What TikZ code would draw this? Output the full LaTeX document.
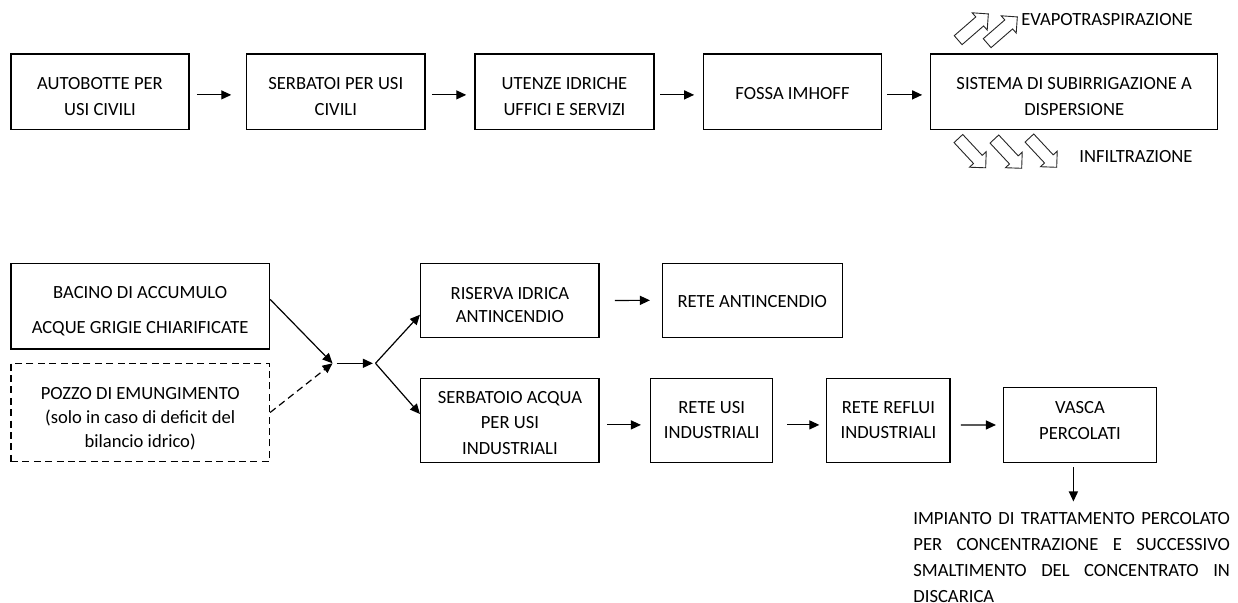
\documentclass[tikz,border=0pt]{standalone}
\usepackage{fontspec}
\setmainfont{Carlito}
\usetikzlibrary{shapes.arrows, arrows.meta}

\newcommand{\dn}[1]{\rule{0pt}{#1}}
\newcommand{\upw}[1]{\rule[-#1]{0pt}{0pt}}

\begin{document}
\begin{tikzpicture}[
    x=0.5pt, y=-0.5pt,
    font=\fontsize{9.3}{12.6}\selectfont,
    box/.style={rectangle, draw=black, line width=0.75pt, inner sep=0pt,
                align=center},
    topbox/.style={box, minimum height=37.7pt, font=\fontsize{9.3}{13.3}\selectfont},
    dbox/.style={box, dash pattern=on 3.5pt off 2.2pt},
    arr/.style={-{Triangle[length=5pt, width=4.5pt]}, line width=0.6pt, color=black},
    fat/.style={single arrow, draw=black!85, line width=0.45pt, inner xsep=0pt,
                inner ysep=2.75pt, minimum height=20pt, minimum width=11pt,
                single arrow head extend=2.75pt}
]
\useasboundingbox (0,0) rectangle (1238,603);

% top row
\node[topbox, minimum width=89pt] (autobotte) at (100,91.7) {\dn{11pt}AUTOBOTTE PER\\USI CIVILI};
\node[topbox, minimum width=89.2pt] (serbatoi) at (335.8,91.7) {\dn{11pt}SERBATOI PER USI\\CIVILI};
\node[topbox, minimum width=89.5pt] (utenze) at (564.5,91.7) {\dn{11pt}UTENZE IDRICHE\\UFFICI E SERVIZI};
\node[topbox, minimum width=89.2pt] (imhoff) at (792.5,91.7) {\dn{8pt}FOSSA IMHOFF};
\node[topbox, minimum width=143.5pt] (subirr) at (1074.2,91.7) {\dn{11pt}SISTEMA DI SUBIRRIGAZIONE A\\DISPERSIONE};

\draw[arr, shorten <=3.5pt, shorten >=7.3pt] ([yshift=-1.6pt]autobotte.east) -- ([yshift=-1.6pt]serbatoi.west);
\draw[arr, shorten <=3pt, shorten >=4pt] ([yshift=-1.6pt]serbatoi.east) -- ([yshift=-1.6pt]utenze.west);
\draw[arr, shorten <=2.7pt, shorten >=4.2pt] ([yshift=-1.6pt]utenze.east) -- ([yshift=-1.6pt]imhoff.west);
\draw[arr, shorten <=2.5pt, shorten >=3.9pt] ([yshift=-1.6pt]imhoff.east) -- ([yshift=-1.6pt]subirr.west);

% evapotraspirazione / infiltrazione
\node[fat, rotate=41] (ev1) at (971,29) {};
\node[fat, rotate=41] (ev2) at (1000,32) {};
\node (evapo) at (1107,20) {EVAPOTRASPIRAZIONE};
\node[fat, rotate=-47] (in1) at (970,151) {};
\node[fat, rotate=-47] (in2) at (1006,151.5) {};
\node[fat, rotate=-47] (in3) at (1041,150.5) {};
\node (infiltr) at (1136,157) {INFILTRAZIONE};

% bottom part
\node[box, minimum width=129.2pt, minimum height=42.8pt] (bacino) at (140.2,306.2) {\dn{11pt}BACINO DI ACCUMULO\\[4.5pt]ACQUE GRIGIE CHIARIFICATE};
\node[dbox, minimum width=129.2pt, minimum height=49.2pt, font=\fontsize{9.3}{12}\selectfont] (pozzo) at (140.2,412.5) {\dn{12pt}POZZO DI EMUNGIMENTO\\(solo in caso di deficit del\\bilancio idrico)};

\coordinate (j1) at (332.5,363.3);
\coordinate (j2) at (375.5,363.3);
\draw[arr] (bacino.3) -- (j1);
\draw[arr, dash pattern=on 3.5pt off 2.2pt] (pozzo.east) -- (j1);
\draw[arr, shorten <=2pt, shorten >=1.3pt] (j1) -- (j2);

\node[box, minimum width=89.2pt, minimum height=37.2pt, font=\fontsize{9.3}{11.8}\selectfont] (riserva) at (509.9,300.5) {\dn{10.5pt}RISERVA IDRICA\\ANTINCENDIO};
\node[box, minimum width=90pt, minimum height=37pt] (antincendio) at (752.3,300.3) {\dn{7.5pt}RETE ANTINCENDIO};
\node[box, minimum width=89.2pt, minimum height=42pt] (serbind) at (509.9,420.3) {\dn{8.7pt}SERBATOIO ACQUA\\PER USI\\INDUSTRIALI};
\node[box, minimum width=61pt, minimum height=42pt] (reteusi) at (711.7,420.3) {RETE USI\\INDUSTRIALI};
\node[box, minimum width=61.7pt, minimum height=42pt] (reflui) at (888.4,420.3) {RETE REFLUI\\INDUSTRIALI};
\node[box, minimum width=76.7pt, minimum height=37.3pt] (vasca) at (1080,425) {VASCA\\PERCOLATI\upw{4.5pt}};

\draw[arr] (j2) -- (riserva.189);
\draw[arr] (j2) -- (serbind.176);
\draw[arr, shorten <=7.5pt, shorten >=5.8pt] (riserva.east) -- (antincendio.west);
\draw[arr, shorten <=3.8pt, shorten >=4.5pt] ([yshift=-2.3pt]serbind.east) -- ([yshift=-2.3pt]reteusi.west);
\draw[arr, shorten <=7pt, shorten >=3.3pt] ([yshift=-2.3pt]reteusi.east) -- ([yshift=-2.3pt]reflui.west);
\draw[arr, shorten <=5pt, shorten >=3.3pt] ([yshift=-2.3pt]reflui.east) -- (vasca.west);

\node[anchor=north west, inner sep=0pt, text width=158.3pt, align=justify,
      font=\fontsize{9.3}{12.85}\selectfont] (impianto) at (913,512.5)
  {IMPIANTO DI TRATTAMENTO PERCOLATO\linebreak PER CONCENTRAZIONE E SUCCESSIVO\linebreak SMALTIMENTO DEL CONCENTRATO IN\linebreak DISCARICA};
\draw[arr, shorten <=2.2pt, shorten >=5.5pt] ([xshift=-3.3pt]vasca.south) -- ([xshift=-3.3pt]vasca.south |- impianto.north);

\end{tikzpicture}
\end{document}
